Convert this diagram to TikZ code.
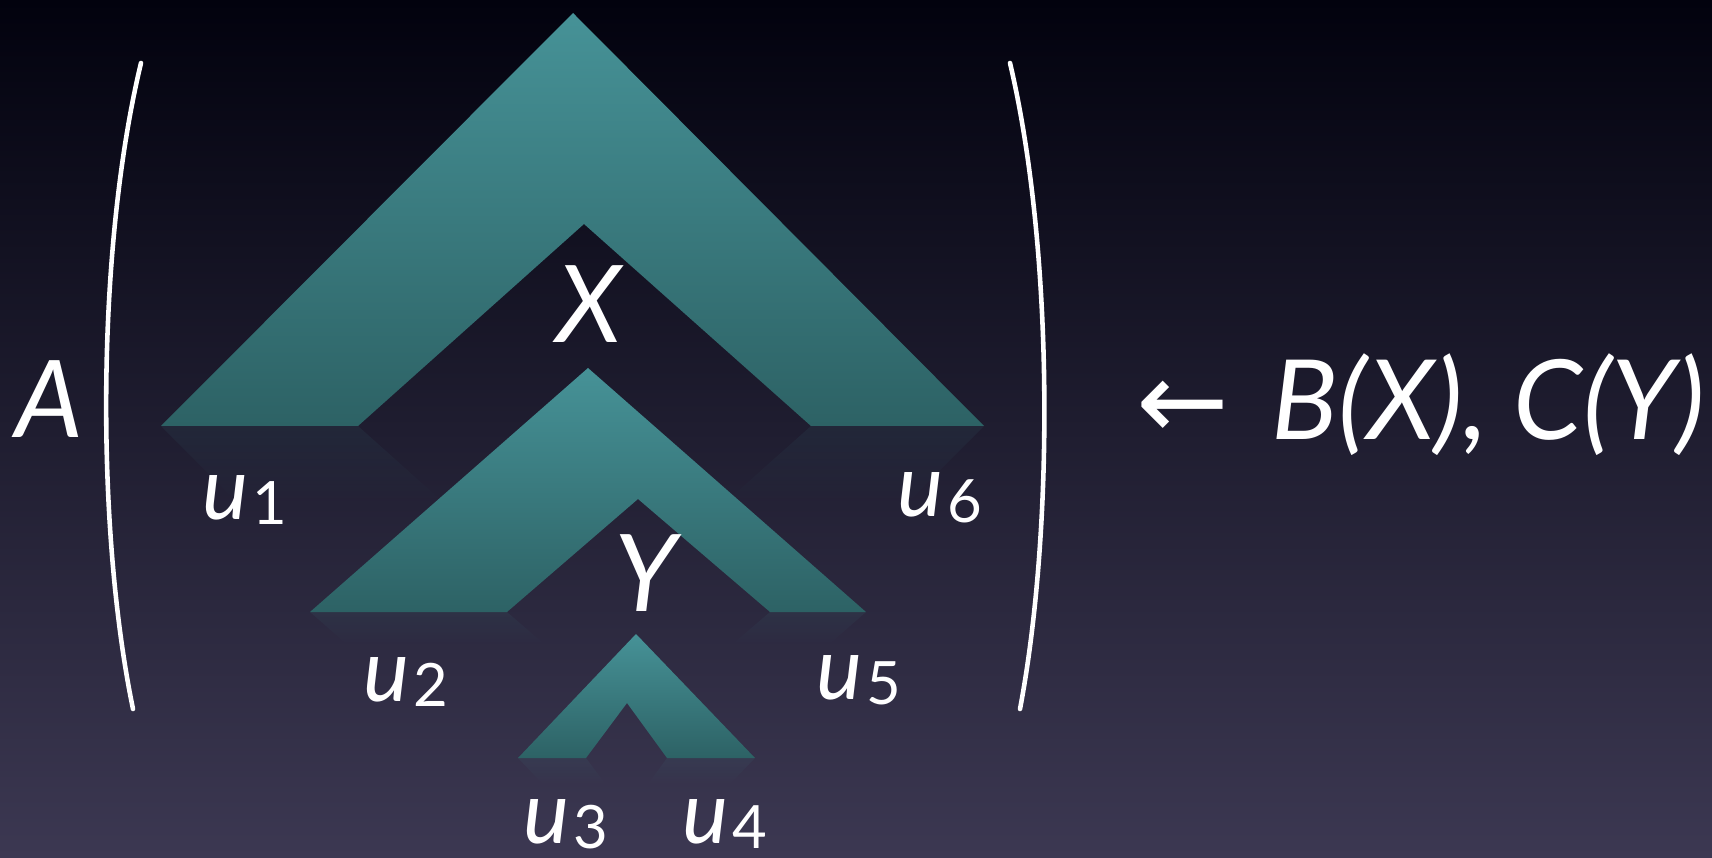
\documentclass[tikz,border=0pt]{standalone}
\usepackage{fontspec}
\setmainfont{Lato}
\newfontfamily\arrowfont{DejaVu Sans}
\usetikzlibrary{fadings}
\definecolor{bgtop}{RGB}{2, 2, 14}
\definecolor{bgmid}{RGB}{18, 17, 40}
\definecolor{bgbot}{RGB}{60, 56, 82}
\definecolor{tealtop}{RGB}{70, 146, 151}
\definecolor{tealbot}{RGB}{45, 98, 101}
\tikzfading[name=reflfade, top color=transparent!91, bottom color=transparent!100]
\newcommand\ulab[1]{\textit{u}\kern1pt\raisebox{-1.5pt}{\fontsize{17}{20}\selectfont #1}}

\begin{document}
\begin{tikzpicture}[
          x=0.01cm, y=-0.01cm,
          chevron/.style={top color=tealtop, bottom color=tealbot},
          refl/.style={fill=tealtop, path fading=reflfade},
          paren/.style={draw=white, line width=1.3pt, line cap=round},
          var/.style={text=white, inner sep=0pt, anchor=base,
                      font=\fontsize{30.5}{36}\selectfont\itshape},
          leaf/.style={text=white, inner sep=0pt, anchor=base west,
                       font=\fontsize{24.7}{30}\selectfont}
        ]
        \useasboundingbox (0,0) rectangle (1712,858);
        \shade[top color=bgtop, middle color=bgmid, bottom color=bgbot] (0,0) rectangle (1712,858);
        % reflections
        \begin{scope}
          \clip (161,426) -- (573,839) -- (984,426) -- (811,426) -- (584,628) -- (358,426) -- cycle;
          \fill[refl] (161,426) rectangle (984,506);
        \end{scope}
        \begin{scope}
          \clip (310,612) -- (588,856) -- (866,612) -- (770,612) -- (638,725) -- (507,612) -- cycle;
          \fill[refl] (310,612) rectangle (866,645);
        \end{scope}
        \begin{scope}
          \clip (518,758) -- (636,882) -- (755,758) -- (667,758) -- (627,813) -- (586,758) -- cycle;
          \fill[refl] (518,758) rectangle (755,785);
        \end{scope}
        % trees
        \shade[chevron] (573,13) -- (161,426) -- (358,426) -- (584,224) -- (811,426) -- (984,426) -- cycle;
        \shade[chevron] (588,368) -- (310,612) -- (507,612) -- (638,499) -- (770,612) -- (866,612) -- cycle;
        \shade[chevron] (636,634) -- (518,758) -- (586,758) -- (627,703) -- (667,758) -- (755,758) -- cycle;
        \draw[paren] (141,63) .. controls (96,250) and (96,530) .. (133,709);
        \draw[paren] (1010,63) .. controls (1054,250) and (1054,530) .. (1020,709);
        \node[var] (a) at (49,438) {A};
        \node[var] (x) at (589,343) {X};
        \node[var] (y) at (646,611) {Y};
        \node[leaf] (u1) at (202,519) {\ulab{1}};
        \node[leaf] (u2) at (363,701) {\ulab{2}};
        \node[leaf] (u3) at (523,843) {\ulab{3}};
        \node[leaf] (u4) at (682,843) {\ulab{4}};
        \node[leaf] (u5) at (816,699) {\ulab{5}};
        \node[leaf] (u6) at (897,517) {\ulab{6}};
        \node[var, anchor=base west, font=\fontsize{31.5}{36}\selectfont] (rule) at (1136,440)
          {{\arrowfont ←}\kern12pt\textit{B(X), C(Y)}};
      \end{tikzpicture}
\end{document}
